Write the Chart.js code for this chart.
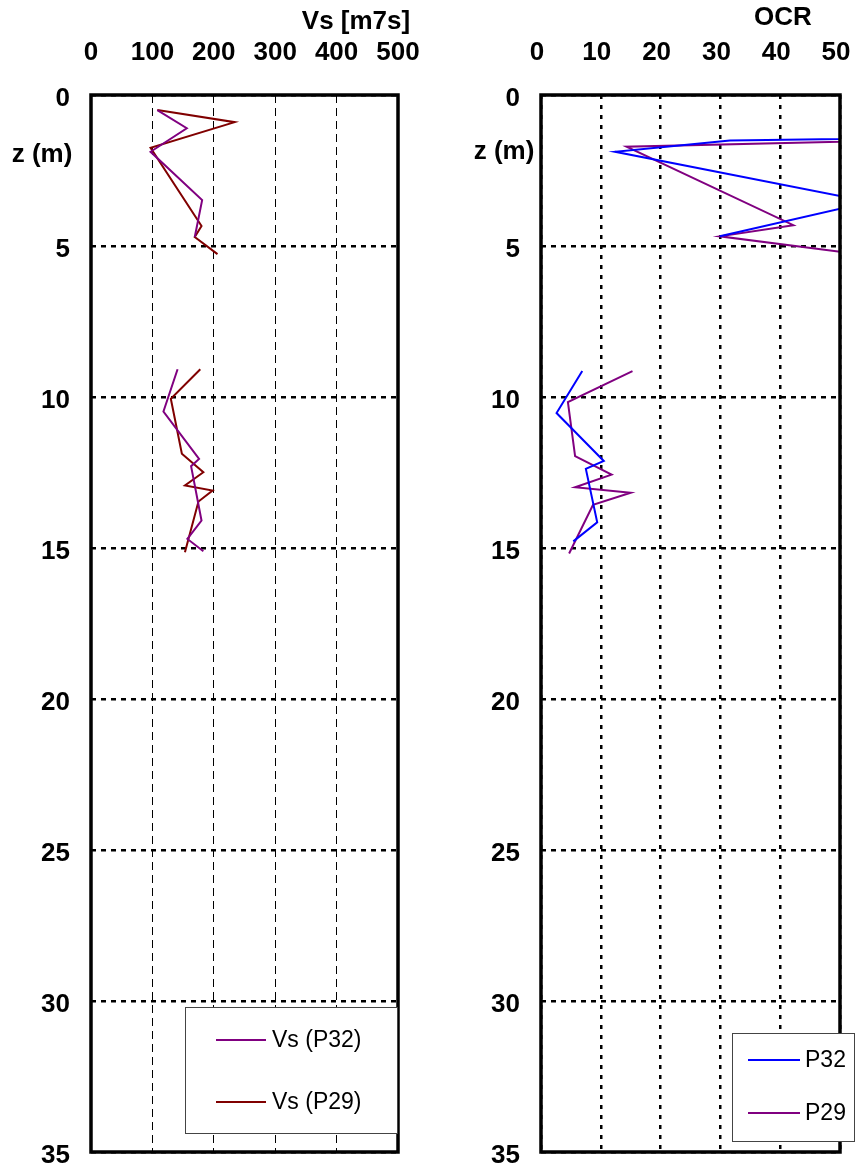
<!DOCTYPE html>
<html>
<head>
<meta charset="utf-8">
<script src="https://cdn.jsdelivr.net/npm/chart.js@4/dist/chart.umd.min.js"></script>
<style>
  html, body { margin: 0; padding: 0; background: #fff; }
  #wrap { position: relative; width: 859px; height: 1171px; overflow: hidden; }
  .panel { position: absolute; top: 0; }
</style>
</head>
<body>
<div id="wrap">
  <canvas id="vsChart" class="panel" style="left:0" width="440" height="1171"></canvas>
  <canvas id="ocrChart" class="panel" style="left:440px" width="419" height="1171"></canvas>
</div>
<script>
// ---- data ----
const depthTicks = [0, 5, 10, 15, 20, 25, 30, 35];
const vsTicks = [0, 100, 200, 300, 400, 500];
const ocrTicks = [0, 10, 20, 30, 40, 50];

// Shear wave velocity profiles (null separates the two tested intervals)
const vsP32Depth = [0.5, 1.1, 1.88, 3.48, 4.7, null, 9.08, 10.48, 12.05, 12.29, 14.09, 14.7, 15.11];
const vsP32 =      [108, 156, 97, 181, 169, null, 141, 118, 176, 163, 180, 157, 183];
const vsP29Depth = [0.5, 0.9, 1.75, 4.34, 4.7, 5.27, null, 9.08, 10.06, 11.88, 12.49, 12.93, 13.1, 13.46, 15.14];
const vsP29 =      [108, 234, 97, 180, 169, 206, null, 178, 130, 148, 183, 153, 198, 175, 153];

// Overconsolidation ratio profiles
const ocrP32Depth = [1.1, 1.51, 1.88, 3.54, 4.68, null, 9.14, 10.53, 12.12, 12.38, 14.15, 14.78];
const ocrP32 =      [168, 31.6, 12.4, 55, 29.9, null, 6.9, 2.6, 10.5, 7.5, 9.4, 5.4];
const ocrP29Depth = [0.9, 1.71, 4.31, 4.68, 5.27, null, 9.14, 10.17, 11.96, 12.57, 12.99, 13.17, 13.57, 15.18];
const ocrP29 =      [191, 14.3, 42.2, 29.9, 53, null, 15.3, 4.5, 5.7, 11.8, 5.7, 15.0, 8.7, 4.7];

const FONT = "'Liberation Sans', Arial, sans-serif";

function toPoints(values, depths) {
  return values.map((v, i) => ({ x: v === null ? null : v, y: depths[i] }));
}

function fixedTicks(list) {
  return scale => { scale.ticks = list.map(v => ({ value: v })); };
}

function noOverflow(scale) {
  scale.paddingLeft = 0;
  scale.paddingRight = 0;
  scale.paddingTop = 0;
  scale.paddingBottom = 0;
}

// frame, axis captions and legend box
const decor = {
  id: 'decor',
  afterDraw(chart, args, opts) {
    const { ctx, chartArea: a } = chart;
    ctx.save();
    ctx.strokeStyle = '#000';
    ctx.lineWidth = 3.5;
    ctx.strokeRect(a.left, a.top, a.right - a.left, a.bottom - a.top);

    ctx.fillStyle = '#000';
    ctx.font = 'bold 26px ' + FONT;
    ctx.textAlign = 'center';
    ctx.textBaseline = 'middle';
    ctx.fillText(opts.title, opts.titleX, opts.titleY);
    ctx.fillText('z (m)', opts.zX, opts.zY);

    const L = opts.legend;
    ctx.fillStyle = '#fff';
    ctx.fillRect(L.x, L.y, L.w, L.h);
    ctx.strokeStyle = '#444';
    ctx.lineWidth = 1;
    ctx.strokeRect(L.x + 0.5, L.y + 0.5, L.w, L.h);
    ctx.font = '23px ' + FONT;
    ctx.textAlign = 'left';
    L.items.forEach(it => {
      ctx.strokeStyle = it.color;
      ctx.lineWidth = 2;
      ctx.beginPath();
      ctx.moveTo(L.lineX0, it.y);
      ctx.lineTo(L.lineX1, it.y);
      ctx.stroke();
      ctx.fillStyle = '#000';
      ctx.fillText(it.text, L.textX, it.y + 1);
    });
    ctx.restore();
  }
};

function profileChart(id, cfg) {
  return new Chart(document.getElementById(id), {
    type: 'scatter',
    data: {
      datasets: cfg.series.map(s => ({
        label: s.label,
        data: toPoints(s.values, s.depths),
        showLine: true,
        spanGaps: false,
        borderColor: s.color,
        borderWidth: 2,
        pointRadius: 0,
        fill: false
      }))
    },
    options: {
      responsive: false,
      animation: false,
      devicePixelRatio: 1,
      layout: { padding: { left: 0, top: 0, right: cfg.padRight, bottom: 19 } },
      plugins: { legend: { display: false }, tooltip: { enabled: false }, decor: cfg.decor },
      scales: {
        x: {
          type: 'linear',
          position: 'top',
          min: cfg.xTicks[0],
          max: cfg.xTicks[cfg.xTicks.length - 1],
          afterBuildTicks: fixedTicks(cfg.xTicks),
          afterFit: s => { s.height = 95; noOverflow(s); },
          grid: { color: '#000', lineWidth: cfg.xGridWidth, drawTicks: false },
          border: { display: false, dash: cfg.xDash },
          ticks: {
            color: '#000', padding: 27, labelOffset: cfg.xLabelOffset,
            maxRotation: 0, autoSkip: false,
            font: { family: FONT, size: 26, weight: 'bold' }
          }
        },
        y: {
          type: 'linear',
          position: 'left',
          reverse: true,
          min: 0,
          max: 35,
          afterBuildTicks: fixedTicks(depthTicks),
          afterFit: s => { s.width = cfg.yWidth; noOverflow(s); },
          grid: { color: '#000', lineWidth: 2.5, drawTicks: false },
          border: { display: false, dash: [5, 5] },
          ticks: {
            color: '#000', padding: 21, labelOffset: 4, autoSkip: false,
            font: { family: FONT, size: 26, weight: 'bold' }
          }
        }
      }
    },
    plugins: [decor]
  });
}

profileChart('vsChart', {
  xTicks: vsTicks,
  padRight: 42,
  yWidth: 91,
  xGridWidth: 1,
  xDash: [8, 5],
  xLabelOffset: 0,
  series: [
    { label: 'Vs (P32)', values: vsP32, depths: vsP32Depth, color: '#800080' },
    { label: 'Vs (P29)', values: vsP29, depths: vsP29Depth, color: '#800000' }
  ],
  decor: {
    title: 'Vs [m7s]', titleX: 356, titleY: 22,
    zX: 42, zY: 155,
    legend: {
      x: 185, y: 1007, w: 212, h: 126, lineX0: 216, lineX1: 266, textX: 272,
      items: [
        { text: 'Vs (P32)', color: '#800080', y: 1040 },
        { text: 'Vs (P29)', color: '#800000', y: 1102 }
      ]
    }
  }
});

profileChart('ocrChart', {
  xTicks: ocrTicks,
  padRight: 19,
  yWidth: 101,
  xGridWidth: 2.5,
  xDash: [4, 6],
  xLabelOffset: -4,
  series: [
    { label: 'P32', values: ocrP32, depths: ocrP32Depth, color: '#0000FF' },
    { label: 'P29', values: ocrP29, depths: ocrP29Depth, color: '#800080' }
  ],
  decor: {
    title: 'OCR', titleX: 343, titleY: 18,
    zX: 64, zY: 152,
    legend: {
      x: 292, y: 1033, w: 122, h: 108, lineX0: 308, lineX1: 360, textX: 365,
      items: [
        { text: 'P32', color: '#0000FF', y: 1060 },
        { text: 'P29', color: '#800080', y: 1113 }
      ]
    }
  }
});
</script>
</body>
</html>
